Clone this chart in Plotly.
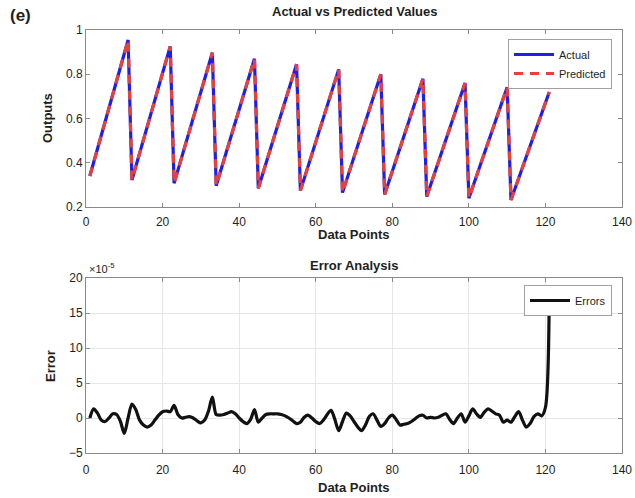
import plotly.graph_objects as go

# ---- data ----
data_points = list(range(1, 122))

actual = [
    0.340, 0.402, 0.463, 0.525, 0.586, 0.648, 0.709, 0.771, 0.832, 0.894, 0.955,
    0.322, 0.382, 0.443, 0.503, 0.563, 0.624, 0.684, 0.744, 0.804, 0.865, 0.926,
    0.307, 0.366, 0.425, 0.484, 0.543, 0.602, 0.661, 0.720, 0.779, 0.838, 0.897,
    0.296, 0.353, 0.411, 0.468, 0.526, 0.583, 0.640, 0.698, 0.755, 0.813, 0.870,
    0.285, 0.341, 0.397, 0.453, 0.509, 0.565, 0.621, 0.677, 0.733, 0.789, 0.845,
    0.274, 0.329, 0.384, 0.438, 0.493, 0.548, 0.603, 0.658, 0.712, 0.767, 0.822,
    0.265, 0.319, 0.372, 0.426, 0.479, 0.533, 0.586, 0.640, 0.693, 0.747, 0.800,
    0.257, 0.309, 0.362, 0.414, 0.466, 0.519, 0.571, 0.623, 0.675, 0.728, 0.780,
    0.247, 0.298, 0.350, 0.401, 0.452, 0.504, 0.555, 0.606, 0.657, 0.709, 0.760,
    0.240, 0.290, 0.340, 0.390, 0.440, 0.491, 0.541, 0.591, 0.641, 0.691, 0.741,
    0.232, 0.281, 0.330, 0.378, 0.427, 0.476, 0.525, 0.574, 0.622, 0.671, 0.720,
]

predicted = [
    0.340, 0.402, 0.463, 0.525, 0.586, 0.648, 0.709, 0.771, 0.832, 0.894, 0.955,
    0.322, 0.382, 0.443, 0.503, 0.563, 0.624, 0.684, 0.744, 0.804, 0.865, 0.926,
    0.307, 0.366, 0.425, 0.484, 0.543, 0.602, 0.661, 0.720, 0.779, 0.838, 0.897,
    0.296, 0.353, 0.411, 0.468, 0.526, 0.583, 0.640, 0.698, 0.755, 0.813, 0.870,
    0.285, 0.341, 0.397, 0.453, 0.509, 0.565, 0.621, 0.677, 0.733, 0.789, 0.845,
    0.274, 0.329, 0.384, 0.438, 0.493, 0.548, 0.603, 0.658, 0.712, 0.767, 0.822,
    0.265, 0.319, 0.372, 0.426, 0.479, 0.533, 0.586, 0.640, 0.693, 0.747, 0.800,
    0.257, 0.309, 0.362, 0.414, 0.466, 0.519, 0.571, 0.623, 0.675, 0.728, 0.780,
    0.247, 0.298, 0.350, 0.401, 0.452, 0.504, 0.555, 0.606, 0.657, 0.709, 0.760,
    0.240, 0.290, 0.340, 0.390, 0.440, 0.491, 0.541, 0.591, 0.641, 0.691, 0.741,
    0.232, 0.281, 0.330, 0.378, 0.427, 0.476, 0.525, 0.574, 0.622, 0.671, 0.720,
]

# errors in units of 1e-5
errors = [
    0.0, 1.3, 0.7, -0.3, -0.5, 0.0, 0.6, 0.5, -0.5, -2.2,
    0.0, 2.0, 1.2, -0.3, -1.0, -1.3, -1.0, -0.3, 0.4, 0.9,
    1.0, 0.9, 1.8, 0.5, 0.0, 0.1, 0.2, 0.0, -0.4, -0.7,
    -0.3, 1.0, 3.0, 0.5, 0.4, 0.5, 0.7, 0.9, 0.6, 0.0,
    -0.5, -0.8, -0.2, 1.2, -0.6, 0.0, 0.5, 0.6, 0.6, 0.6,
    0.5, 0.3, 0.0, -0.4, -0.8, -0.6, 0.1, 0.4, 0.0, -0.5,
    -0.8, -0.3, 0.5, 1.1, -0.2, -1.8, -0.5, 0.7, 0.3, -0.5,
    -1.3, -1.8, -1.0, 0.2, 0.6, -0.3, -1.2, -0.8, 0.0, 0.4,
    -0.2, -1.0, -0.9, -0.8, -0.5, -0.1, 0.3, 0.4, 0.0, 0.1,
    0.0, 0.1, 0.4, 0.6, -0.2, -0.8, 0.0, 0.6, -0.6, 0.3,
    1.3, 0.6, 0.1, 0.8, 1.3, 1.0, 0.6, 0.4, -0.6, -0.3,
    -0.6, 0.2, 0.9, -0.3, -1.3, -0.8, 0.2, 0.6, 0.3, 1.5,
    17.5,
]

x_ticks = [0, 20, 40, 60, 80, 100, 120, 140]
y1_ticks = [0.2, 0.4, 0.6, 0.8, 1]
y1_labels = ["0.2", "0.4", "0.6", "0.8", "1"]
y2_ticks = [-5, 0, 5, 10, 15, 20]

FONT = "Liberation Sans, Arial, sans-serif"
AXIS_COLOR = "#8a8a8a"
TEXT_COLOR = "#1e1e1e"

fig = go.Figure()

fig.add_trace(go.Scatter(
    x=data_points, y=actual, mode="lines", name="Actual",
    line=dict(color="#1f1fe6", width=3.2), xaxis="x", yaxis="y", legend="legend",
))
fig.add_trace(go.Scatter(
    x=data_points, y=predicted, mode="lines", name="Predicted",
    line=dict(color="#e8413b", width=3.2, dash="9px,7px"), xaxis="x", yaxis="y", legend="legend",
))
fig.add_trace(go.Scatter(
    x=data_points, y=errors, mode="lines", name="Errors",
    line=dict(color="#111111", width=3.2, shape="spline", smoothing=0.8),
    xaxis="x2", yaxis="y2", legend="legend2",
))

X_DOMAIN = [86 / 635, 622 / 635]
TOP_Y = [1 - 207 / 498, 1 - 30 / 498]
BOT_Y = [1 - 453 / 498, 1 - 278 / 498]

common_x = dict(
    range=[0, 140], tickvals=x_ticks, ticks="inside", ticklen=4, tickcolor=AXIS_COLOR,
    showline=True, linecolor=AXIS_COLOR, linewidth=1, mirror="ticks", zeroline=False,
    tickfont=dict(family=FONT, size=12, color=TEXT_COLOR),
    domain=X_DOMAIN, automargin=False,
)
common_y = dict(
    ticks="inside", ticklen=4, tickcolor=AXIS_COLOR, showline=True, linecolor=AXIS_COLOR,
    linewidth=1, mirror="ticks", zeroline=False,
    tickfont=dict(family=FONT, size=12, color=TEXT_COLOR), automargin=False,
)


def label(text, x, y, size=13, angle=0, xanchor="center"):
    return dict(text=text, x=x / 635, y=1 - y / 498, xref="paper", yref="paper",
                xanchor=xanchor, yanchor="middle", textangle=angle, showarrow=False,
                font=dict(family=FONT, size=size, color=TEXT_COLOR))


fig.update_layout(
    width=635, height=498,
    margin=dict(l=0, r=0, t=0, b=0, autoexpand=False),
    paper_bgcolor="white", plot_bgcolor="white",
    font=dict(family=FONT, color=TEXT_COLOR),
    xaxis=dict(**common_x, anchor="y", showgrid=False, ticklabelstandoff=4),
    yaxis=dict(**common_y, range=[0.2, 1], tickvals=y1_ticks, ticktext=y1_labels,
               showgrid=False, domain=TOP_Y, anchor="x"),
    xaxis2=dict(**common_x, anchor="y2", showgrid=True, gridcolor="#e6e6e6", ticklabelstandoff=6),
    yaxis2=dict(**common_y, range=[-5, 20], tickvals=y2_ticks, showgrid=True,
                gridcolor="#e6e6e6", domain=BOT_Y, anchor="x2"),
    legend=dict(
        x=612 / 635, y=1 - 39 / 498, xanchor="right", yanchor="top",
        bgcolor="white", bordercolor="#a0a0a0", borderwidth=1,
        font=dict(family=FONT, size=11, color=TEXT_COLOR),
        tracegroupgap=0, itemwidth=40,
    ),
    legend2=dict(
        x=612 / 635, y=1 - 285 / 498, xanchor="right", yanchor="top",
        bgcolor="white", bordercolor="#a0a0a0", borderwidth=1,
        font=dict(family=FONT, size=11, color=TEXT_COLOR),
        itemwidth=40,
    ),
    showlegend=True,
    annotations=[
        label("<b>Actual vs Predicted Values</b>", 354, 12),
        label("<b>Error Analysis</b>", 354, 265),
        label("<b>Data Points</b>", 354, 234),
        label("<b>Data Points</b>", 354, 487),
        label("<b>Outputs</b>", 47, 118, angle=-90),
        label("<b>Error</b>", 50, 366, angle=-90),
        label("<b>(e)</b>", 8, 16, size=17, xanchor="left"),
        label("\u00d710<sup>-5</sup>", 87, 268, size=11, xanchor="left"),
    ],
)

fig.write_html("out.html")
